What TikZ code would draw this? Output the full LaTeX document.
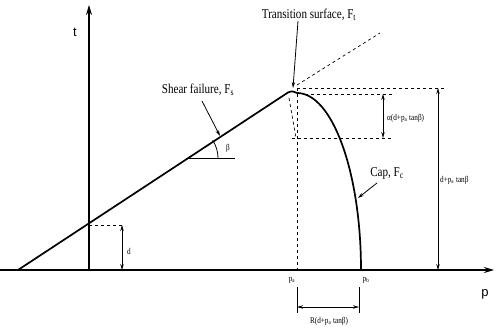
\documentclass[tikz,border=0pt]{standalone}
\usepackage{fontspec}
\setmainfont{Liberation Serif}
\newfontfamily\lblfont[FakeStretch=0.82]{Liberation Serif}
\newfontfamily\axisfont{Liberation Sans}
\usetikzlibrary{arrows.meta}

\tikzset{
  curve/.style={line width=1.7pt},
  axis/.style={line width=1.5pt,-{Stealth[length=10pt,width=6pt]}},
  guide/.style={line width=0.7pt,dash pattern=on 3pt off 3pt},
  thinline/.style={line width=0.8pt},
  dimarrow/.style={line width=0.8pt,{Stealth[length=6pt,width=3.5pt]}-{Stealth[length=6pt,width=3.5pt]}},
  pointer/.style={line width=0.8pt,-{Stealth[length=6pt,width=3.5pt]}},
  biglabel/.style={font=\lblfont\fontsize{13.5}{14}\selectfont,inner sep=0pt},
  smalllabel/.style={font=\lblfont\fontsize{8.8}{10}\selectfont,inner sep=0pt},
  axislabel/.style={font=\axisfont\fontsize{13}{14}\selectfont,inner sep=0pt},
}

\begin{document}
\begin{tikzpicture}[x=1pt,y=1pt]
  \useasboundingbox (0,0) rectangle (497,334);
  \def\pa{297}
  \def\pb{361}
  \def\base{64}
  % key points
  \coordinate (o) at (89,\base);
  \coordinate (ttip) at (89,329);
  \coordinate (pleft) at (0,\base);
  \coordinate (ptip) at (494,\base);
  \coordinate (s0) at (18,\base);
  \coordinate (apex) at (288,241.5);
  \coordinate (captop) at (\pa,241);
  \coordinate (pa) at (\pa,\base);
  \coordinate (pb) at (\pb,\base);
  \coordinate (dtop) at (89,109);
  % axes
  \draw[axis] (o) -- (ttip);
  \draw[axis] (pleft) -- (ptip);
  \node[axislabel] (tlab) at (75,302) {t};
  \node[axislabel] (plab) at (485,40) {p};
  % shear failure line, transition and cap
  \draw[curve] (s0) -- (apex) .. controls (292,243) .. (captop)
    arc[start angle=90,end angle=0,x radius=\pb-\pa,y radius=177];
  % dashed guides near the apex
  \draw[guide] (\pa,249) -- (380,301);
  \draw[guide] (\pa,246) -- (pa);
  \draw[guide] (289,236) -- (296,196);
  \draw[guide] (\pa,246) -- (445,246);
  \draw[guide] (305,240) -- (393,240);
  \draw[guide] (292,196) -- (392,196);
  % d
  \draw[guide] (dtop) -- (125,109);
  \coordinate (da) at (122,109);
  \coordinate (db) at (122,\base);
  \draw[dimarrow] (da) -- (db);
  \node[smalllabel] (dlab) at (129,83) {d};
  % beta
  \coordinate (bpt) at (186,176);
  \draw[thinline] (bpt) -- (235,176);
  \draw[thinline] ([shift={(32,0)}]bpt) arc[start angle=0,end angle=33.5,radius=32];
  \node[smalllabel] (blab) at (228,186) {β};
  % alpha and height dimensions
  \draw[dimarrow] (383,240) -- (383,196);
  \node[smalllabel,anchor=west] (alab) at (387,216) {α(d+p\textsubscript{a} tanβ)};
  \draw[dimarrow] (438,246) -- (438,\base);
  \node[smalllabel,anchor=west] (hlab) at (440,154) {d+p\textsubscript{a} tanβ};
  % p_a, p_b and R
  \node[smalllabel] (palab) at (292,54) {p\textsubscript{a}};
  \node[smalllabel] (pblab) at (366,54) {p\textsubscript{b}};
  \draw[thinline] (\pa,47) -- (\pa,21);
  \draw[thinline] (359,47) -- (359,21);
  \draw[dimarrow] (\pa,27) -- (359,27);
  \node[smalllabel] (rlab) at (329,13) {R(d+p\textsubscript{a} tanβ)};
  % labels with pointers
  \node[biglabel] (shear) at (198,244) {Shear failure, F\textsubscript{s}};
  \draw[pointer] (202,233) -- (220,198);
  \node[biglabel] (trans) at (309,319) {Transition surface, F\textsubscript{t}};
  \draw[pointer] (trans.south -| 298,0) -- (293,246);
  \node[biglabel] (cap) at (387,161) {Cap, F\textsubscript{c}};
  \draw[pointer] (377,151) -- (358,136);
\end{tikzpicture}
\end{document}
